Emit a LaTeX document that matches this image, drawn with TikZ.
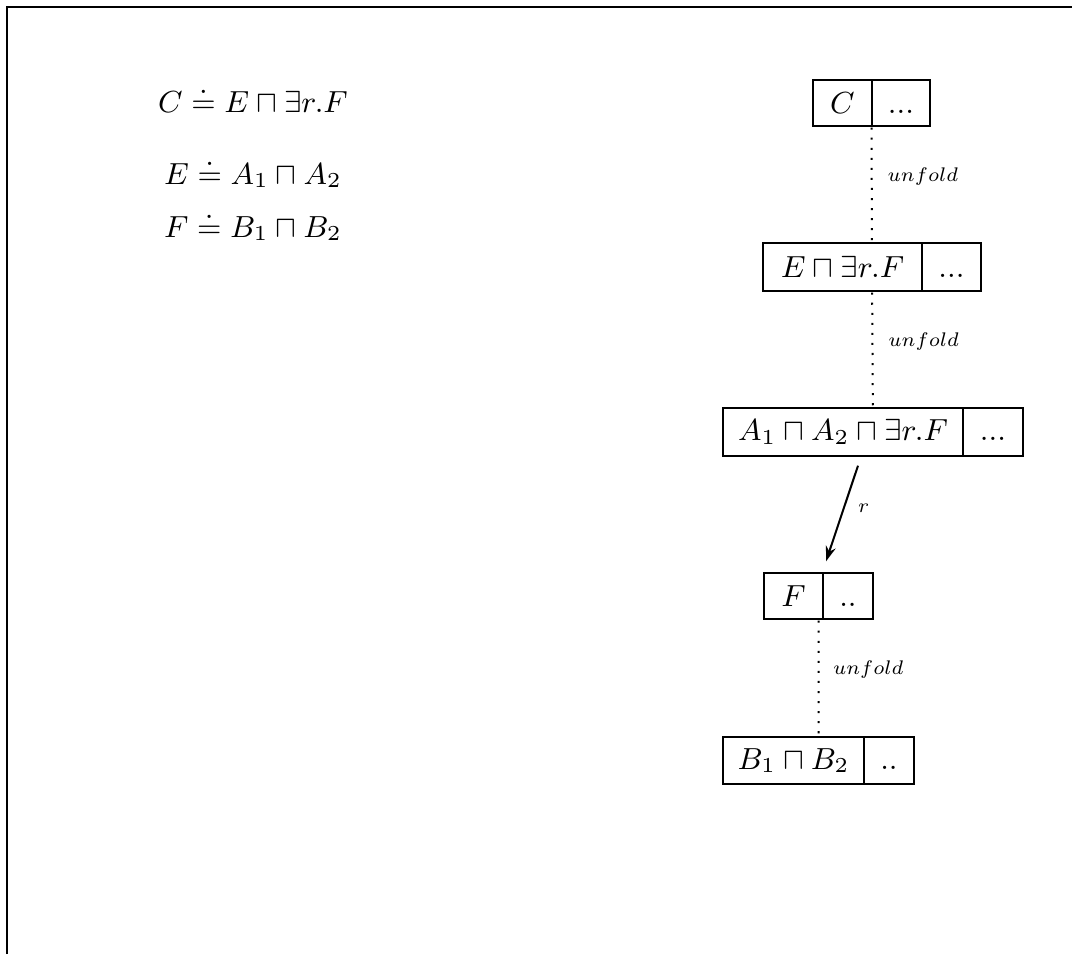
\RequirePackage{fix-cm}
\documentclass[tikz,border=0pt]{standalone}
\usetikzlibrary{fit,calc,arrows.meta}
\begin{document}
\begin{tikzpicture}[x=0.2985pt,y=-0.2985pt,
  font=\fontsize{9.1}{11}\selectfont,
  cell/.style={draw, line width=0.6pt, inner sep=0pt, minimum height=#1},
  box/.style={inner sep=0pt},
  lab/.style={anchor=west, inner sep=0pt, xshift=4.5pt, font=\scriptsize, scale=0.84, transform shape},
  eq/.style={anchor=base, inner sep=0pt},
  dots/.style={line width=0.6pt, dash pattern=on 0.6pt off 2.4pt},
  frameline/.style={line width=0.6pt}]
\useasboundingbox (0,0) rectangle (1072,954);
% frame
\coordinate (fbl) at (7,954);
\coordinate (ftl) at (7,7);
\coordinate (ftr) at (1072,7);
\draw[frameline] (fbl) -- (ftl) -- (ftr);
% equations
\node[eq] (eq1) at (253,112) {$C \doteq E \sqcap \exists r.F$};
\node[eq] (eq2) at (253,184) {$E \doteq A_1 \sqcap A_2$};
\node[eq] (eq3) at (253,237) {$F \doteq B_1 \sqcap B_2$};
% box C
\node[cell=13.73pt, minimum width=17.61pt] (Cl) at (842.5,103) {$C$};
\node[cell=13.73pt, minimum width=17.31pt] (Cr) at (901,103) {$\vphantom{C}...$};
\node[box, fit=(Cl)(Cr)] (C) {};
% box E
\node[cell=14.33pt, minimum width=47.46pt] (El) at (842.5,267) {$E \sqcap \exists r.F$};
\node[cell=14.33pt, minimum width=17.61pt] (Er) at (951.5,267) {$\vphantom{E \sqcap \exists r.F}...$};
\node[box, fit=(El)(Er)] (E) {};
% box A
\node[cell=14.33pt, minimum width=71.64pt] (Al) at (843,432) {$A_1 \sqcap A_2 \sqcap \exists r.F$};
\node[cell=14.33pt, minimum width=17.91pt] (Ar) at (993,432) {$\vphantom{A_1 \sqcap A_2 \sqcap \exists r.F}...$};
\node[box, fit=(Al)(Ar)] (A) {};
% box F
\node[cell=13.73pt, minimum width=17.61pt] (Fl) at (793.5,596) {$F$};
\node[cell=13.73pt, minimum width=14.93pt] (Fr) at (848,596) {$\vphantom{F}..$};
\node[box, fit=(Fl)(Fr)] (F) {};
% box B
\node[cell=14.03pt, minimum width=42.09pt] (Bl) at (793.5,760.5) {$B_1 \sqcap B_2$};
\node[cell=14.03pt, minimum width=14.93pt] (Br) at (889,760.5) {$\vphantom{B_1 \sqcap B_2}..$};
\node[box, fit=(Bl)(Br)] (B) {};
% connectors
\draw[dots] (C) -- node[lab, pos=0.43] {$unfold$} (E);
\draw[dots] (E) -- node[lab, pos=0.43] {$unfold$} (A);
\draw[-{Stealth[length=4.5pt,width=3pt]}, line width=0.6pt]
  ($(A.south)+(-15,8)$) -- node[lab, pos=0.45, xshift=-0.5pt] {$r$} ($(F.north)+(7.5,-10)$);
\draw[dots] (F) -- node[lab, pos=0.43, xshift=-0.5pt] {$unfold$} (B);
\end{tikzpicture}
\end{document}
